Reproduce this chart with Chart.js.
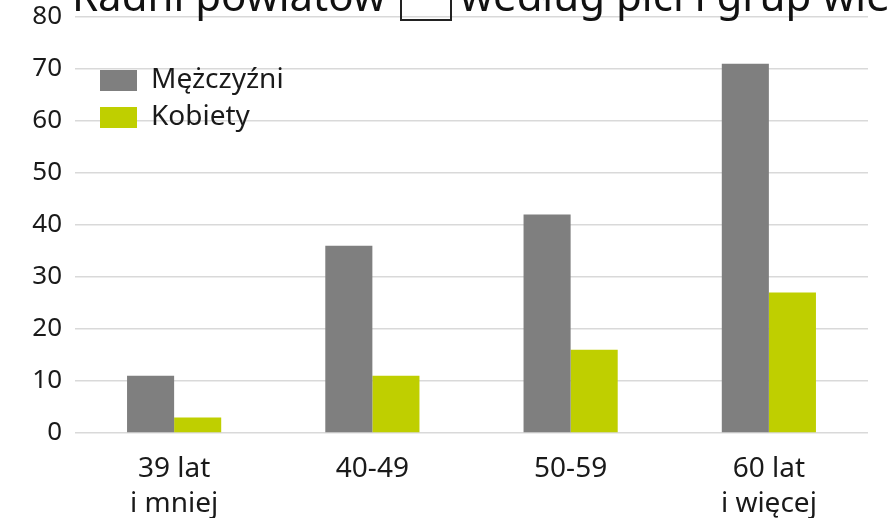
<!DOCTYPE html>
<html>
<head>
<meta charset="utf-8">
<script src="https://cdn.jsdelivr.net/npm/chart.js@4.4.1/dist/chart.umd.min.js"></script>
<style>
  html, body { margin: 0; padding: 0; background: #ffffff; }
  #wrap { width: 891px; height: 522px; position: relative; overflow: hidden; }
</style>
</head>
<body>
<div id="wrap"><canvas id="chart"></canvas></div>
<script>
// ---- data ----
const categories = [["39 lat", "i mniej"], ["40-49"], ["50-59"], ["60 lat", "i więcej"]];
const seriesNames = ["Mężczyźni", "Kobiety"];
const menValues = [11, 36, 42, 71];
const womenValues = [3, 11, 16, 27];
const yTickValues = [0, 10, 20, 30, 40, 50, 60, 70, 80];
const titleParts = ["Radni powiatów", "według płci i grup wieku"];

// ---- styles ----
const FONT = "'Noto Sans', 'Open Sans', sans-serif";
const TEXT = "#1a1a1a";
const GREY = "#7f7f7f";
const GREEN = "#bfcf00";
const GRID = "#d9d9d9";

// clipped title at the top (the reference shows only its lower part)
const clippedTitle = {
  id: "clippedTitle",
  afterDraw(chart) {
    const ctx = chart.ctx;
    ctx.save();
    ctx.fillStyle = "#111111";
    ctx.font = "42px " + FONT;
    ctx.textBaseline = "alphabetic";
    ctx.textAlign = "left";
    ctx.fillText(titleParts[0], 72, 11);
    ctx.fillText(titleParts[1], 460, 11);
    // small outlined box between the two parts of the title
    ctx.strokeStyle = "#222222";
    ctx.lineWidth = 2;
    ctx.strokeRect(401, -10, 50, 30);
    ctx.restore();
  }
};

// put the legend inside the plot area, upper left
const legendPlace = {
  id: "legendPlace",
  afterLayout(chart) {
    const lg = chart.legend;
    if (!lg) return;
    const ca = chart.chartArea;
    lg.left = ca.left + 16;
    lg.top = ca.top + 40.5;
    lg.right = lg.left + 300;
    lg.bottom = lg.top + 300;
  }
};

new Chart(document.getElementById("chart"), {
  type: "bar",
  data: {
    labels: categories,
    datasets: [
      { label: seriesNames[0], data: menValues, backgroundColor: GREY, borderWidth: 0 },
      { label: seriesNames[1], data: womenValues, backgroundColor: GREEN, borderWidth: 0 }
    ]
  },
  options: {
    responsive: true,
    maintainAspectRatio: false,
    animation: false,
    devicePixelRatio: 1,
    datasets: { bar: { categoryPercentage: 0.475, barPercentage: 1.0 } },
    layout: { padding: { top: 17, right: 23, bottom: 4, left: 0 } },
    plugins: {
      title: { display: false },
      tooltip: { enabled: false },
      legend: {
        position: "chartArea",
        align: "start",
        labels: {
          boxWidth: 37,
          boxHeight: 21,
          padding: 9,
          color: TEXT,
          font: { family: FONT, size: 28 }
        }
      }
    },
    scales: {
      x: {
        grid: { display: false },
        border: { display: false },
        afterFit(scale) { scale.height = 85; },
        ticks: {
          color: TEXT,
          padding: 11,
          maxRotation: 0,
          autoSkip: false,
          font: { family: FONT, size: 28, lineHeight: 1.25 }
        }
      },
      y: {
        min: yTickValues[0],
        max: yTickValues[yTickValues.length - 1],
        afterBuildTicks(scale) {
          scale.ticks = yTickValues.map(v => ({ value: v }));
        },
        afterFit(scale) {
          scale.width = 75;
          scale.paddingTop = 0;
          scale.paddingBottom = 0;
        },
        grid: { color: GRID, lineWidth: 1.5, drawTicks: false },
        border: { display: false },
        ticks: {
          color: TEXT,
          padding: 13,
          font: { family: FONT, size: 26 }
        }
      }
    }
  },
  plugins: [legendPlace, clippedTitle]
});
</script>
</body>
</html>
